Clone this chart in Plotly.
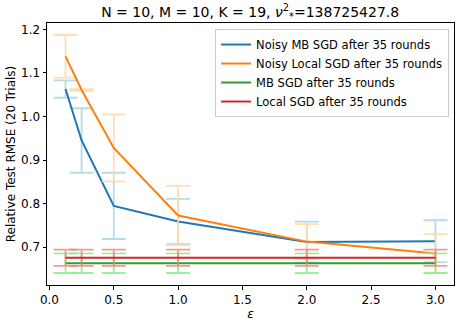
import plotly.graph_objects as go

eps = [0.125, 0.25, 0.5, 1.0, 2.0, 3.0]

noisy_mb = [1.063, 0.945, 0.795, 0.759, 0.712, 0.714]
noisy_mb_err = [0.020, 0.074, 0.076, 0.052, 0.047, 0.048]

noisy_local = [1.138, 1.061, 0.928, 0.773, 0.713, 0.686]
noisy_local_err = [0.049, 0.002, 0.077, 0.068, 0.040, 0.044]

mb = [0.6635] * 6
mb_err = [0.0225] * 6

local = [0.676] * 6
local_err = [0.0185] * 6

names = ["Noisy MB SGD after 35 rounds", "Noisy Local SGD after 35 rounds",
         "MB SGD after 35 rounds", "Local SGD after 35 rounds"]

series = [
    (noisy_mb, noisy_mb_err, "#1f77b4", "rgba(173,216,230,0.9)"),
    (noisy_local, noisy_local_err, "#ff7f0e", "rgba(255,218,170,0.9)"),
    (mb, mb_err, "#2ca02c", "rgba(144,238,144,0.9)"),
    (local, local_err, "#d62728", "rgba(240,128,128,0.8)"),
]

fig = go.Figure()
for name, (y, e, c, ec) in zip(names, series):
    fig.add_trace(go.Scatter(
        x=eps, y=y, mode="lines", name=name,
        line=dict(color=c, width=2),
        error_y=dict(type="data", array=e, visible=True, color=ec,
                     thickness=1.8, width=12),
    ))

font = "DejaVu Sans"
fig.update_layout(
    width=457, height=323,
    margin=dict(l=47, r=3, t=23, b=38, autoexpand=False),
    paper_bgcolor="white", plot_bgcolor="white",
    font=dict(family=font, size=12, color="black"),
    title=dict(text="N = 10, M = 10, K = 19, <i>ν</i><sup>2</sup><sub>*</sub>=138725427.8",
               x=0.5475, xanchor="center", y=0.962, yanchor="middle",
               font=dict(size=14, family=font)),
    showlegend=True,
    legend=dict(x=0.988, xanchor="right", y=0.977, yanchor="top",
                bgcolor="rgba(255,255,255,0.8)", bordercolor="#cccccc",
                borderwidth=1, font=dict(size=11.5, family=font),
                tracegroupgap=0, itemwidth=30),
)
fig.update_xaxes(range=[-0.019, 3.144], tickvals=[0, 0.5, 1, 1.5, 2, 2.5, 3],
                 ticktext=["0.0", "0.5", "1.0", "1.5", "2.0", "2.5", "3.0"],
                 showline=True, linecolor="black", linewidth=1, mirror=True,
                 ticks="outside", ticklen=3.5, tickcolor="black",
                 showgrid=False, zeroline=False, automargin=False,
                 title=dict(text="<i>ε</i>", standoff=2, font=dict(size=12)))
fig.update_yaxes(range=[0.6135, 1.2145], tickvals=[0.7, 0.8, 0.9, 1.0, 1.1, 1.2],
                 ticktext=["0.7", "0.8", "0.9", "1.0", "1.1", "1.2"],
                 showline=True, linecolor="black", linewidth=1, mirror=True,
                 ticks="outside", ticklen=3.5, tickcolor="black",
                 showgrid=False, zeroline=False, automargin=False,
                 title=dict(text="Relative Test RMSE (20 Trials)", standoff=2,
                            font=dict(size=12)))

fig.write_html("out.html", config={"displayModeBar": False},
               post_script=["document.body.style.margin='0';document.body.style.overflow='hidden';"])
